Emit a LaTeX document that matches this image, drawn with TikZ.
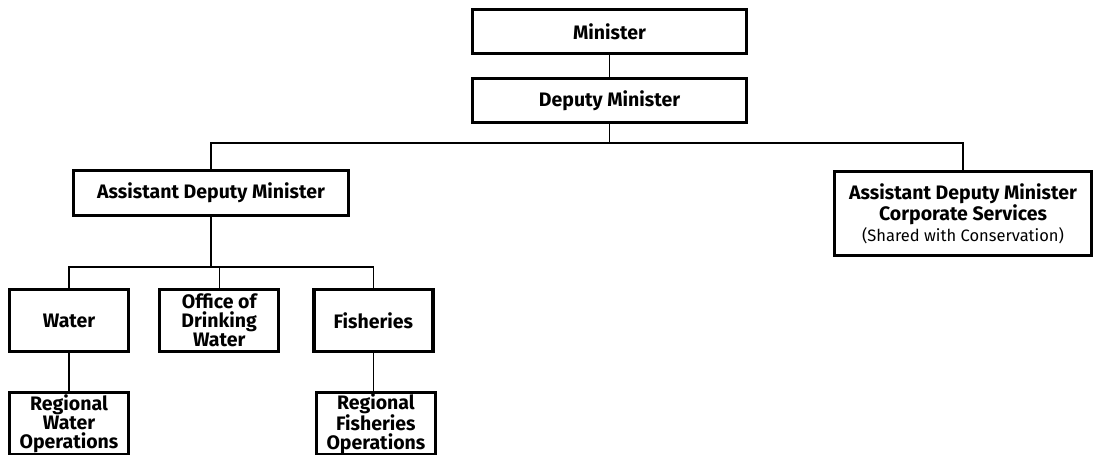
\documentclass[tikz,border=0pt]{standalone}
\usepackage{fontspec}
\setmainfont{Fira Sans}
\usetikzlibrary{positioning}

\begin{document}
\begin{tikzpicture}[
    x=1pt, y=-1pt,
    node distance=22pt and 28pt,
    unit/.style={rectangle, draw=black, line width=3.2pt, fill=white, inner sep=1pt,
                 align=center, font=\fontsize{19.5}{18.8}\selectfont\bfseries},
    head/.style={unit, minimum width=274pt, minimum height=44pt},
    branch/.style={unit, minimum width=119pt, minimum height=62pt},
    link/.style={line width=1.4pt, black},
]
    \useasboundingbox (0,0) rectangle (1098,455);

    \node[head] (minister) at (609.5,31.5) {Minister};
    \node[head, below=22pt of minister] (deputy) {Deputy Minister};

    \node[head, minimum width=275pt, minimum height=45pt] (adm) at (211,193) {Assistant Deputy Minister};
    \node[unit, minimum width=257pt, minimum height=84pt,
          font=\fontsize{19.5}{21}\selectfont\bfseries] (corp) at (963,213.5)
        {Assistant Deputy Minister\\Corporate Services\\
         {\mdseries\fontsize{16.5}{18}\selectfont (Shared with Conservation)}};

    \node[branch] (water) at (69,320.5) {Water};
    \node[branch, right=28pt of water] (office) {Office of\\Drinking\\Water};
    \node[branch, right=32pt of office] (fish) {Fisheries};

    \node[branch, below=38pt of water] (regwater) {Regional\\Water\\Operations};
    \node[branch, below=38pt of fish, xshift=2.5pt] (regfish) {Regional\\Fisheries\\Operations};

    % bus lines
    \coordinate (topbus) at (0,143);
    \coordinate (lowbus) at (0,267);

    \draw[link] (minister) -- (deputy);
    \draw[link] (deputy) -- (deputy |- topbus);
    \draw[link] (adm.north) -- (adm.north |- topbus) -| (corp.north);
    \draw[link] (adm) -- (adm |- lowbus);
    \draw[link] (water.north) -- (water.north |- lowbus) -| (fish.north);
    \draw[link] (office) -- (office |- lowbus);
    \draw[link] (water) -- (regwater);
    \draw[link] (fish.south) -- (fish.south |- regfish.north);
\end{tikzpicture}
\end{document}
